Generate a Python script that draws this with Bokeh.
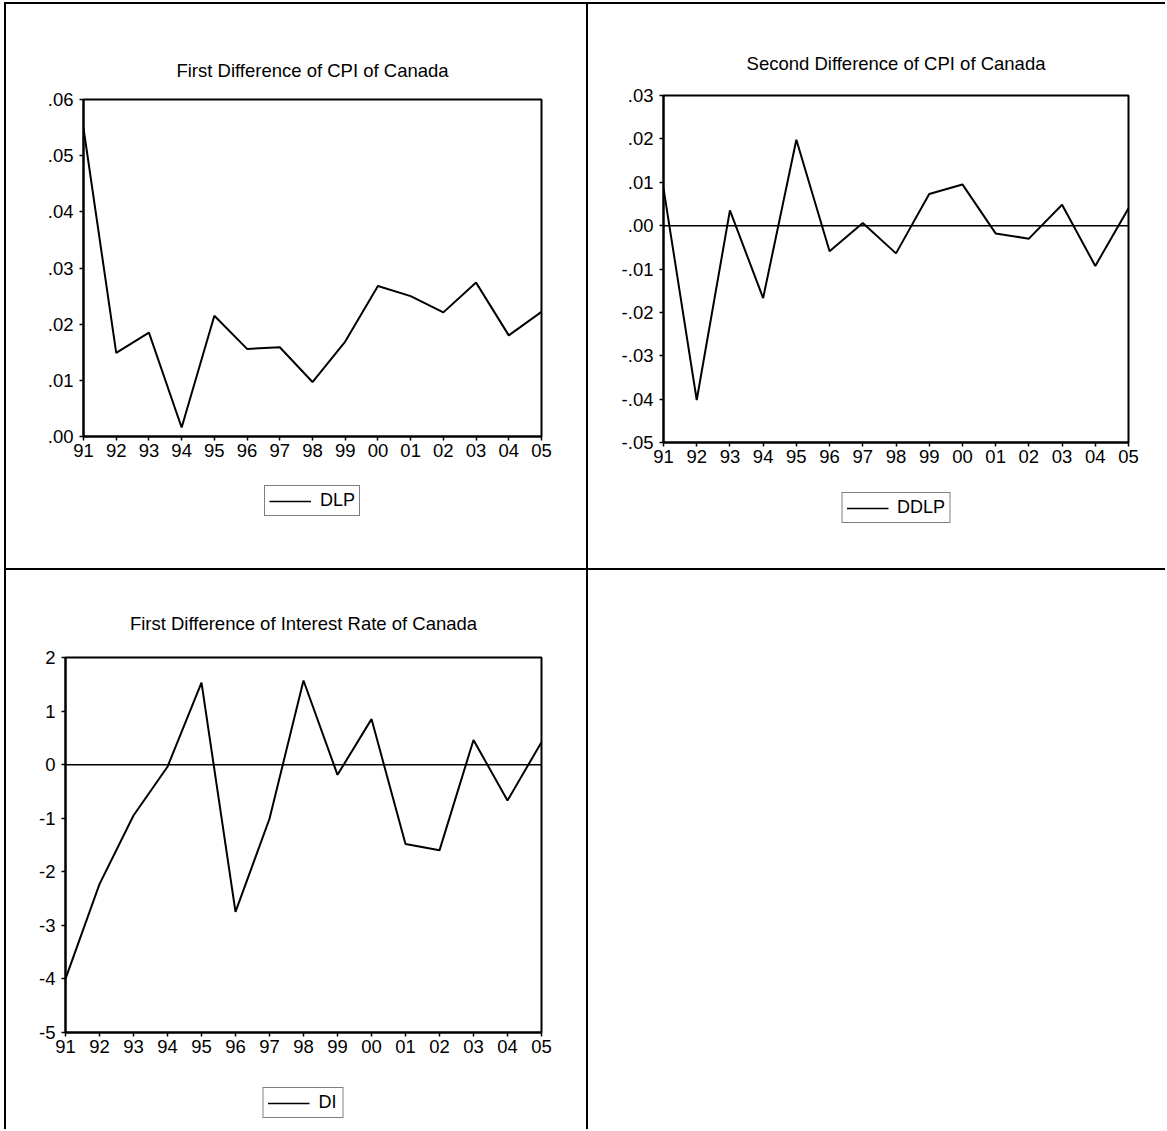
from bokeh.plotting import figure
from bokeh.models import FixedTicker, Legend, LegendItem, Span, Div
from bokeh.layouts import column, row
from bokeh.embed import file_html
from bokeh.resources import INLINE

# ---------------- data ----------------
years = [1991, 1992, 1993, 1994, 1995, 1996, 1997, 1998, 1999, 2000, 2001, 2002, 2003, 2004, 2005]
year_labels = ["91", "92", "93", "94", "95", "96", "97", "98", "99", "00", "01", "02", "03", "04", "05"]

dlp = [0.0549, 0.0149, 0.0185, 0.0016, 0.0215, 0.0156, 0.0159, 0.0097, 0.0169,
       0.0268, 0.0250, 0.0221, 0.0274, 0.0180, 0.0222]
ddlp = [0.0086, -0.0402, 0.0035, -0.0167, 0.0198, -0.0059, 0.0006, -0.0064, 0.0073,
        0.0095, -0.0018, -0.0030, 0.0048, -0.0093, 0.0040]
di = [-4.00, -2.23, -0.95, -0.04, 1.53, -2.75, -1.01, 1.57, -0.19,
      0.85, -1.48, -1.60, 0.46, -0.67, 0.42]

dlp_ticks = [0.0, 0.01, 0.02, 0.03, 0.04, 0.05, 0.06]
dlp_tick_labels = [".00", ".01", ".02", ".03", ".04", ".05", ".06"]
ddlp_ticks = [-0.05, -0.04, -0.03, -0.02, -0.01, 0.0, 0.01, 0.02, 0.03]
ddlp_tick_labels = ["-.05", "-.04", "-.03", "-.02", "-.01", ".00", ".01", ".02", ".03"]
di_ticks = [-5, -4, -3, -2, -1, 0, 1, 2]
di_tick_labels = ["-5", "-4", "-3", "-2", "-1", "0", "1", "2"]

titles = ["First Difference of CPI of Canada",
          "Second Difference of CPI of Canada",
          "First Difference of Interest Rate of Canada"]
series_names = ["DLP", "DDLP", "DI"]
zero_level = 0

FONT = "Liberation Sans"
PANEL_STYLE = {"box-shadow": "inset 2px 2px 0 0 #000"}
LEFT_EDGE_STYLE = {"box-shadow": "inset 2px 0 0 0 #000"}
LINE_STYLE = dict(line_color="black", line_width=2)


def make_panel(title, ys, name, yr, yticks, ylabels, w, h_main, h_leg, mb,
               title_standoff, legend_margin, zero_line):
    p = figure(width=w, height=h_main, x_range=(years[0], years[-1]), y_range=yr,
               output_backend="svg", toolbar_location=None,
               min_border_left=mb[0], min_border_right=mb[1],
               min_border_top=mb[2], min_border_bottom=mb[3],
               border_fill_alpha=0, background_fill_color="white",
               outline_line_color="black", outline_line_width=2,
               styles=PANEL_STYLE)
    p.grid.visible = False
    p.title.text = title
    p.title.align = "center"
    p.title.text_font = FONT
    p.title.text_font_size = "18.5px"
    p.title.text_font_style = "normal"
    p.title.text_color = "black"
    p.title.standoff = title_standoff

    p.xaxis.ticker = FixedTicker(ticks=years)
    p.xaxis.major_label_overrides = dict(zip(years, year_labels))
    p.yaxis.ticker = FixedTicker(ticks=yticks)
    p.yaxis.major_label_overrides = dict(zip(yticks, ylabels))
    for ax in (p.xaxis[0], p.yaxis[0]):
        ax.minor_tick_line_color = None
        ax.major_tick_in = 0
        ax.major_tick_out = 4
        ax.major_tick_line_color = "black"
        ax.major_tick_line_width = 1.5
        ax.axis_line_color = "black"
        ax.axis_line_width = 2
        ax.major_label_text_font = FONT
        ax.major_label_text_font_size = "18.5px"
        ax.major_label_text_color = "black"
    p.xaxis.major_label_standoff = 3
    p.yaxis.major_label_standoff = 6

    if zero_line:
        p.add_layout(Span(location=zero_level, dimension="width",
                          line_color="black", line_width=1.5))

    p.line(years, ys, **LINE_STYLE)

    # legend strip below the chart (same horizontal frame as the chart)
    q = figure(width=w, height=h_leg, x_range=(years[0], years[-1]), y_range=yr,
               x_axis_type=None, y_axis_type=None,
               output_backend="svg", toolbar_location=None,
               min_border_left=mb[0], min_border_right=mb[1],
               min_border_top=0, min_border_bottom=0,
               border_fill_alpha=0, background_fill_alpha=0,
               outline_line_color=None, styles=LEFT_EDGE_STYLE)
    q.grid.visible = False
    key = q.line(years, ys, line_color="black", line_width=1.5, visible=False)
    leg = Legend(items=[LegendItem(label=name, renderers=[key])],
                 location="top", orientation="horizontal",
                 border_line_color="black", border_line_width=1.5,
                 background_fill_color="white", inactive_fill_alpha=0,
                 label_text_font=FONT, label_text_font_size="18px",
                 label_text_color="black",
                 glyph_width=42, glyph_height=20, label_standoff=9,
                 padding=4, margin=legend_margin)
    q.add_layout(leg, "center")
    return column(p, q)


c1 = make_panel(titles[0], dlp, series_names[0], (dlp_ticks[0], dlp_ticks[-1]),
                dlp_ticks, dlp_tick_labels, 582, 468, 98, (79, 45, 97, 34), 38, 15, False)
c2 = make_panel(titles[1], ddlp, series_names[1], (ddlp_ticks[0], ddlp_ticks[-1]),
                ddlp_ticks, ddlp_tick_labels, 579, 470, 96, (77, 37, 93, 30), 43, 20, True)
c3 = make_panel(titles[2], di, series_names[2], (di_ticks[0], di_ticks[-1]),
                di_ticks, di_tick_labels, 582, 498, 63, (61, 45, 89, 34), 48, 21, True)
blank = Div(width=579, height=561, margin=0, styles=PANEL_STYLE)

root = column(row(c1, c2), row(c3, blank), margin=(2, 0, 0, 4))

with open("out.html", "w") as f:
    f.write(file_html(root, INLINE))
